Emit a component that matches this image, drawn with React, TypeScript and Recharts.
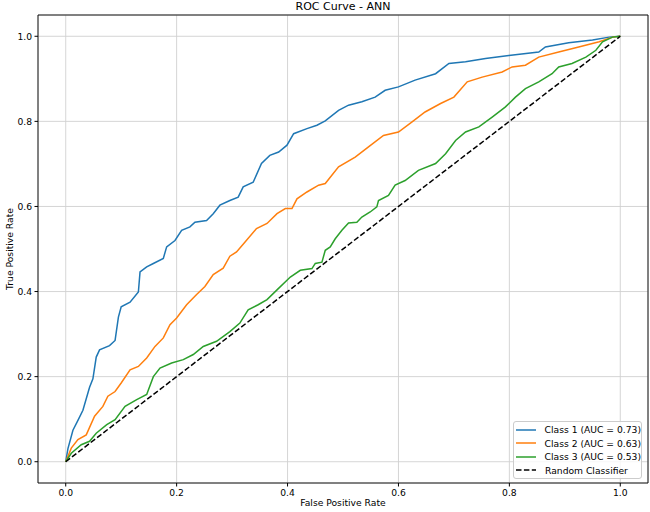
import { LineChart, Line, XAxis, YAxis, CartesianGrid, ReferenceArea } from "recharts";

const class1Fpr = [0, 0.004, 0.013, 0.022, 0.031, 0.043, 0.049, 0.055, 0.061, 0.079, 0.089, 0.095, 0.1, 0.116, 0.131, 0.134, 0.146, 0.158, 0.176, 0.182, 0.197, 0.209, 0.224, 0.233, 0.254, 0.266, 0.278, 0.296, 0.311, 0.32, 0.338, 0.353, 0.368, 0.384, 0.399, 0.411, 0.435, 0.453, 0.468, 0.492, 0.51, 0.534, 0.558, 0.576, 0.6, 0.63, 0.667, 0.691, 0.721, 0.757, 0.799, 0.853, 0.865, 0.907, 0.95, 0.98, 1];
const class1Tpr = [0, 0.031, 0.074, 0.097, 0.121, 0.175, 0.195, 0.246, 0.263, 0.273, 0.285, 0.34, 0.364, 0.375, 0.399, 0.446, 0.458, 0.466, 0.478, 0.505, 0.52, 0.544, 0.552, 0.563, 0.567, 0.583, 0.603, 0.614, 0.622, 0.646, 0.657, 0.701, 0.72, 0.728, 0.744, 0.771, 0.783, 0.791, 0.801, 0.826, 0.838, 0.846, 0.857, 0.873, 0.881, 0.897, 0.912, 0.936, 0.94, 0.948, 0.955, 0.963, 0.975, 0.985, 0.991, 0.998, 1];

const class2Fpr = [0, 0.01, 0.022, 0.037, 0.052, 0.067, 0.076, 0.089, 0.1, 0.116, 0.131, 0.146, 0.161, 0.176, 0.188, 0.2, 0.218, 0.236, 0.251, 0.266, 0.284, 0.296, 0.308, 0.323, 0.344, 0.363, 0.381, 0.396, 0.408, 0.417, 0.435, 0.456, 0.468, 0.492, 0.522, 0.546, 0.573, 0.6, 0.624, 0.648, 0.676, 0.7, 0.724, 0.751, 0.787, 0.805, 0.829, 0.853, 0.889, 0.925, 0.962, 0.986, 1];
const class2Tpr = [0, 0.032, 0.052, 0.063, 0.107, 0.13, 0.154, 0.165, 0.185, 0.216, 0.224, 0.244, 0.271, 0.291, 0.322, 0.338, 0.369, 0.393, 0.412, 0.44, 0.455, 0.483, 0.493, 0.516, 0.548, 0.56, 0.583, 0.595, 0.595, 0.618, 0.634, 0.65, 0.654, 0.693, 0.716, 0.74, 0.767, 0.775, 0.798, 0.822, 0.842, 0.857, 0.893, 0.904, 0.916, 0.928, 0.932, 0.951, 0.963, 0.975, 0.987, 0.998, 1];

const class3Fpr = [0, 0.01, 0.028, 0.043, 0.055, 0.074, 0.089, 0.107, 0.128, 0.146, 0.158, 0.17, 0.191, 0.212, 0.23, 0.248, 0.272, 0.296, 0.314, 0.329, 0.347, 0.363, 0.381, 0.405, 0.423, 0.444, 0.45, 0.462, 0.468, 0.477, 0.486, 0.498, 0.51, 0.525, 0.534, 0.549, 0.561, 0.564, 0.582, 0.594, 0.612, 0.636, 0.667, 0.685, 0.703, 0.721, 0.745, 0.769, 0.793, 0.811, 0.829, 0.853, 0.877, 0.889, 0.913, 0.938, 0.956, 0.968, 0.986, 1];
const class3Tpr = [0, 0.02, 0.04, 0.048, 0.067, 0.087, 0.099, 0.13, 0.146, 0.158, 0.2, 0.22, 0.232, 0.24, 0.252, 0.271, 0.283, 0.306, 0.326, 0.357, 0.369, 0.381, 0.404, 0.434, 0.45, 0.454, 0.466, 0.469, 0.497, 0.505, 0.524, 0.544, 0.561, 0.563, 0.575, 0.587, 0.599, 0.614, 0.626, 0.65, 0.661, 0.685, 0.701, 0.724, 0.755, 0.775, 0.787, 0.81, 0.834, 0.857, 0.877, 0.893, 0.912, 0.928, 0.936, 0.951, 0.967, 0.987, 0.998, 1];

const randomFpr = [0, 1];
const randomTpr = [0, 1];

const ticks = [0, 0.2, 0.4, 0.6, 0.8, 1.0];

const seriesNames = ["Class 1 (AUC = 0.73)", "Class 2 (AUC = 0.63)", "Class 3 (AUC = 0.53)", "Random Classifier"];
const seriesColors = ["#1f77b4", "#ff7f0e", "#2ca02c", "#000000"];

const toPoints = (fpr: number[], tpr: number[]) => fpr.map((x, i) => ({ fpr: x, tpr: tpr[i] }));

const curves = [
  toPoints(class1Fpr, class1Tpr),
  toPoints(class2Fpr, class2Tpr),
  toPoints(class3Fpr, class3Tpr),
];
const diagonal = toPoints(randomFpr, randomTpr);

const FONT = "'DejaVu Sans', sans-serif";
const tickStyle = { fontSize: 9.2, fill: "#000", fontFamily: FONT };

function YLabel(props: any) {
  const vb = props.viewBox ?? { y: 15, height: 468 };
  const cy = vb.y + vb.height / 2;
  return (
    <text
      x={9}
      y={cy}
      transform={`rotate(-90, 9, ${cy})`}
      textAnchor="middle"
      dominantBaseline="central"
      fontSize={9.2}
      fontFamily={FONT}
      fill="#000"
    >
      True Positive Rate
    </text>
  );
}

function ChartLegend() {
  return (
    <div
      style={{
        position: "absolute",
        left: 513,
        top: 421,
        width: 127,
        height: 55,
        border: "1px solid #cccccc",
        borderRadius: 3,
        background: "rgba(255,255,255,0.8)",
        fontFamily: FONT,
        fontSize: 9.2,
        paddingTop: 1,
      }}
    >
      {seriesNames.map((name, i) => (
        <div key={name} style={{ display: "flex", alignItems: "center", height: 13.5 }}>
          <svg width={24} height={6} style={{ marginLeft: 2, marginRight: 5 }}>
            <line
              x1={0}
              y1={3}
              x2={20}
              y2={3}
              stroke={seriesColors[i]}
              strokeWidth={1.5}
              strokeDasharray={i === 3 ? "5.5 2.4" : undefined}
            />
          </svg>
          <span style={{ whiteSpace: "nowrap" }}>{name}</span>
        </div>
      ))}
    </div>
  );
}

export default function App() {
  return (
    <div style={{ position: "absolute", left: 0, top: 0, width: 650, height: 512, background: "#fff" }}>
      <div
        style={{
          position: "absolute",
          left: 38,
          width: 610,
          top: 0,
          textAlign: "center",
          fontFamily: FONT,
          fontSize: 11,
          lineHeight: "14px",
        }}
      >
        ROC Curve - ANN
      </div>
      <LineChart width={650} height={512} margin={{ top: 15, right: 2, bottom: 0, left: 0 }}>
        <CartesianGrid stroke="#d0d0d0" strokeWidth={0.9} />
        <XAxis
          type="number"
          dataKey="fpr"
          domain={[-0.05, 1.05]}
          ticks={ticks}
          tickFormatter={(v: number) => v.toFixed(1)}
          allowDataOverflow
          height={29}
          axisLine={false}
          tickLine={{ stroke: "#000" }}
          tickSize={3.5}
          tickMargin={3}
          tick={tickStyle}
          label={{ value: "False Positive Rate", position: "insideBottom", offset: 6, fontSize: 9.2, fill: "#000", fontFamily: FONT }}
        />
        <YAxis
          type="number"
          dataKey="tpr"
          domain={[-0.05, 1.05]}
          ticks={ticks}
          tickFormatter={(v: number) => v.toFixed(1)}
          allowDataOverflow
          width={38}
          axisLine={false}
          tickLine={{ stroke: "#000" }}
          tickSize={3.5}
          tickMargin={2.5}
          tick={tickStyle}
          label={<YLabel />}
        />
        <ReferenceArea
          x1={-0.05}
          x2={1.05}
          y1={-0.05}
          y2={1.05}
          fill="none"
          stroke="#000"
          strokeWidth={0.9}
          ifOverflow="visible"
        />
        {curves.map((pts, i) => (
          <Line
            key={seriesNames[i]}
            data={pts}
            dataKey="tpr"
            name={seriesNames[i]}
            type="linear"
            stroke={seriesColors[i]}
            strokeWidth={1.5}
            dot={false}
            activeDot={false}
            isAnimationActive={false}
          />
        ))}
        <Line
          data={diagonal}
          dataKey="tpr"
          name={seriesNames[3]}
          type="linear"
          stroke="#000"
          strokeWidth={1.5}
          strokeDasharray="5.5 2.4"
          dot={false}
          activeDot={false}
          isAnimationActive={false}
        />
      </LineChart>
      <ChartLegend />
    </div>
  );
}
